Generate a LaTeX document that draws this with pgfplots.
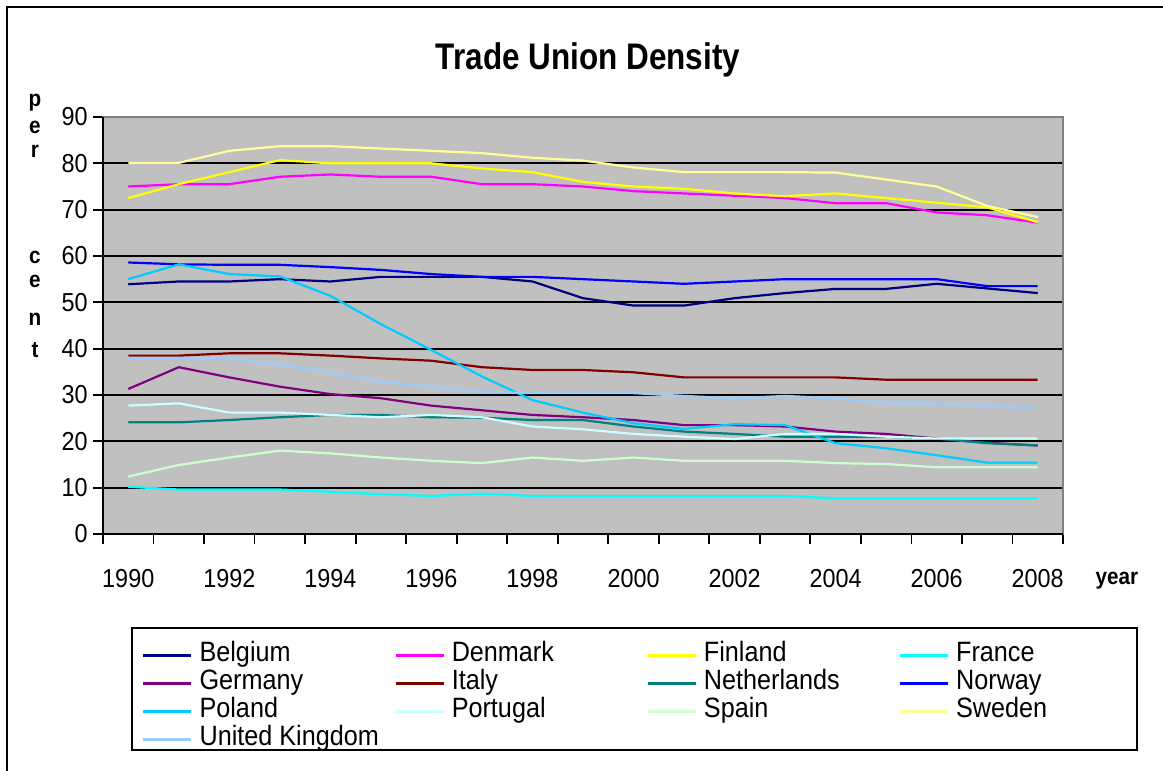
\documentclass[border=0pt]{standalone}
\usepackage{fontspec}
\setmainfont{Liberation Sans}[FakeStretch=0.9]
\newfontfamily\titlefont{Liberation Sans}[FakeStretch=0.85]
\usepackage{pgfplots}
\pgfplotsset{compat=1.18}
\usepackage{pgfplotstable}

\definecolor{cBE}{HTML}{000080}
\definecolor{cDK}{HTML}{FF00FF}
\definecolor{cFI}{HTML}{FFFF00}
\definecolor{cFR}{HTML}{00FFFF}
\definecolor{cDE}{HTML}{800080}
\definecolor{cIT}{HTML}{800000}
\definecolor{cNL}{HTML}{008080}
\definecolor{cNO}{HTML}{0000FF}
\definecolor{cPL}{HTML}{00CCFF}
\definecolor{cPT}{HTML}{CCFFFF}
\definecolor{cES}{HTML}{CCFFCC}
\definecolor{cSE}{HTML}{FFFF99}
\definecolor{cUK}{HTML}{99CCFF}
\definecolor{plotgray}{HTML}{C0C0C0}
\definecolor{bordergray}{HTML}{808080}

\pgfplotstableread{
year BE DK FI FR DE IT NL NO PL PT ES SE UK
1990 53.9 75.0 72.5 10.2 31.3 38.5 24.1 58.6 55.0 27.7 12.4 80.1 38.0
1991 54.5 75.5 75.5 9.6 36.0 38.5 24.1 58.2 58.2 28.2 14.9 80.1 38.0
1992 54.5 75.5 78.1 9.6 33.8 39.0 24.6 58.1 56.1 26.2 16.5 82.7 37.9
1993 55.0 77.1 80.7 9.6 31.8 39.0 25.2 58.1 55.6 26.2 18.0 83.7 36.5
1994 54.5 77.6 80.0 9.1 30.2 38.5 25.7 57.6 51.4 25.7 17.4 83.7 34.9
1995 55.5 77.1 80.0 8.6 29.3 37.9 25.7 57.0 45.3 25.2 16.5 83.2 32.9
1996 55.5 77.1 80.0 8.2 27.7 37.4 25.2 56.1 39.7 25.7 15.8 82.7 31.8
1997 55.5 75.5 78.9 8.7 26.7 36.0 25.1 55.5 34.0 25.2 15.3 82.2 30.7
1998 54.5 75.5 78.1 8.2 25.7 35.4 24.6 55.5 28.9 23.2 16.5 81.2 30.4
1999 50.9 75.0 76.0 8.2 25.2 35.4 24.6 55.0 26.2 22.6 15.8 80.6 30.4
2000 49.3 74.0 75.0 8.2 24.6 34.9 23.2 54.5 23.9 21.6 16.5 79.1 30.4
2001 49.3 73.5 74.5 8.2 23.5 33.8 22.1 54.0 22.7 21.0 15.8 78.1 29.8
2002 50.9 73.0 73.5 8.2 23.5 33.8 21.6 54.5 23.7 20.5 15.8 78.1 29.3
2003 52.0 72.5 72.9 8.2 23.2 33.8 21.0 55.0 23.5 21.6 15.8 78.1 29.8
2004 52.9 71.4 73.5 7.7 22.1 33.8 21.0 55.0 19.6 21.6 15.3 78.0 29.3
2005 52.9 71.4 72.5 7.7 21.6 33.3 21.0 55.0 18.5 21.0 15.1 76.5 28.2
2006 54.0 69.4 71.5 7.7 20.6 33.3 20.6 55.0 17.0 20.6 14.4 75.0 28.2
2007 53.0 68.8 70.5 7.7 19.7 33.3 19.6 53.5 15.4 20.6 14.4 70.8 27.7
2008 52.0 67.2 67.3 7.7 19.1 33.3 19.1 53.5 15.4 20.6 14.4 68.4 27.1
}\datatable

\begin{document}
\begin{tikzpicture}
\useasboundingbox (0,0) rectangle (581.5bp,385.5bp);
\draw[line width=1bp] (3.5bp,0) -- (3.5bp,382bp) -- (581.5bp,382bp);
\draw[line width=1bp] (66bp,71.5bp) rectangle (568.5bp,10.5bp);
\begin{axis}[
  name=ax,
  at={(51.5bp,118.5bp)}, anchor=south west,
  scale only axis, width=480bp, height=208.5bp,
  xmin=1989.5, xmax=2008.5, ymin=0, ymax=90,
  ytick={0,10,...,90},
  xtick={1989.5,1990.5,...,2008.5}, xticklabels={},
  extra x ticks={1990,1992,...,2008},
  extra x tick labels={1990,1992,1994,1996,1998,2000,2002,2004,2006,2008},
  extra x tick style={major tick length=0pt, xticklabel style={inner sep=0pt, yshift=-17.5bp}},
  xtick pos=bottom, ytick pos=left,
  ymajorgrids, grid style={black, line width=0.9bp},
  axis background/.style={fill=plotgray},
  axis line style={draw=bordergray, line width=1.2bp},
  tick align=outside, major tick length=5bp,
  tick style={black, line width=0.9bp},
  tick label style={font=\fontsize{13bp}{15bp}\selectfont},
  yticklabel style={inner xsep=2.5bp},
  /pgf/number format/assume math mode=true,
  legend columns=4,
  legend cell align=left,
  legend image code/.code={\draw[#1] (0bp,0bp) -- (24bp,0bp);},
  legend style={at={(0.0406,-0.2566)}, anchor=north west, draw=none,
    fill=none, inner xsep=0bp, inner ysep=0bp,
    font=\fontsize{14bp}{14bp}\selectfont,
    nodes={inner sep=0pt, text height=10bp, text depth=4bp},
    /tikz/every odd column/.style={column sep=3.5bp}},
  every axis plot/.append style={line width=1.1bp, mark=none},
]
\addplot[cBE] table[x=year,y=BE]{\datatable};
\addlegendentry{\makebox[97.5bp][l]{Belgium}}
\addplot[cDK] table[x=year,y=DK]{\datatable};
\addlegendentry{\makebox[97.5bp][l]{Denmark}}
\addplot[cFI] table[x=year,y=FI]{\datatable};
\addlegendentry{\makebox[97.5bp][l]{Finland}}
\addplot[cFR] table[x=year,y=FR]{\datatable};
\addlegendentry{\makebox[90bp][l]{France}}
\addplot[cDE] table[x=year,y=DE]{\datatable};
\addlegendentry{\makebox[97.5bp][l]{Germany}}
\addplot[cIT] table[x=year,y=IT]{\datatable};
\addlegendentry{\makebox[97.5bp][l]{Italy}}
\addplot[cNL] table[x=year,y=NL]{\datatable};
\addlegendentry{\makebox[97.5bp][l]{Netherlands}}
\addplot[cNO] table[x=year,y=NO]{\datatable};
\addlegendentry{\makebox[90bp][l]{Norway}}
\addplot[cPL] table[x=year,y=PL]{\datatable};
\addlegendentry{\makebox[97.5bp][l]{Poland}}
\addplot[cPT] table[x=year,y=PT]{\datatable};
\addlegendentry{\makebox[97.5bp][l]{Portugal}}
\addplot[cES] table[x=year,y=ES]{\datatable};
\addlegendentry{\makebox[97.5bp][l]{Spain}}
\addplot[cSE] table[x=year,y=SE]{\datatable};
\addlegendentry{\makebox[90bp][l]{Sweden}}
\addplot[cUK] table[x=year,y=UK]{\datatable};
\addlegendentry{\makebox[97.5bp][l]{United Kingdom}}
\end{axis}
\draw[black, line width=1.2bp] (ax.north west) -- (ax.south west) -- (ax.south east);
\node[font=\titlefont\bfseries\fontsize{18.5bp}{20bp}\selectfont, anchor=base] at (294bp,350.9bp) {Trade Union Density};
\node[font=\bfseries\fontsize{11.5bp}{12bp}\selectfont, anchor=base] at (558.5bp,93bp) {year};
\begin{scope}[every node/.style={font=\bfseries\fontsize{11.5bp}{12bp}\selectfont}]
\node at (17.5bp,334bp) {p};
\node at (17.5bp,322bp) {e};
\node at (17.5bp,310bp) {r};
\node at (17.5bp,257bp) {c};
\node at (17.5bp,245bp) {e};
\node at (17.5bp,226bp) {n};
\node at (17.5bp,210.5bp) {t};
\end{scope}
\end{tikzpicture}
\end{document}
